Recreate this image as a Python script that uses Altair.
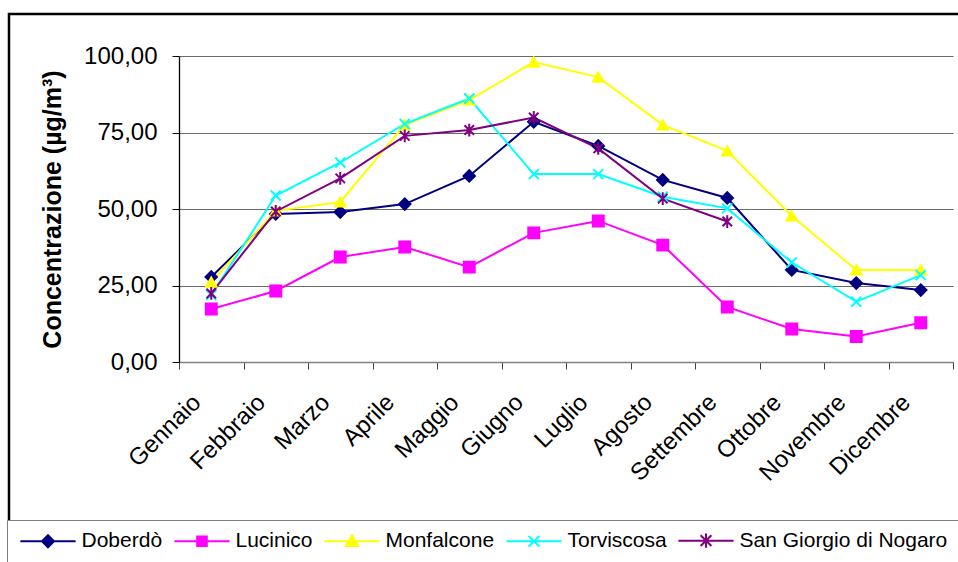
import altair as alt
import pandas as pd

# Mesi (asse x)
mesi = ["Gennaio", "Febbraio", "Marzo", "Aprile", "Maggio", "Giugno",
        "Luglio", "Agosto", "Settembre", "Ottobre", "Novembre", "Dicembre"]

# Stazioni e valori mensili (µg/m³)
stazioni = ["Doberdò", "Lucinico", "Monfalcone", "Torviscosa", "San Giorgio di Nogaro"]
doberdo = [27.8, 48.4, 49.0, 51.6, 60.8, 78.5, 70.6, 59.5, 53.6, 30.1, 25.8, 23.5]
lucinico = [17.3, 23.2, 34.3, 37.6, 31.0, 42.2, 46.1, 38.2, 18.0, 10.8, 8.3, 12.8]
monfalcone = [26.1, 49.4, 52.3, 77.5, 85.6, 98.0, 93.1, 77.5, 69.0, 47.7, 30.1, 30.1]
torviscosa = [21.9, 54.4, 65.2, 77.8, 86.1, 61.4, 61.4, 54.0, 50.2, 32.5, 19.7, 28.4]
san_giorgio = [22.4, 49.2, 60.0, 73.9, 75.8, 79.9, 69.8, 53.4, 45.9, None, None, None]

colori = ["#000080", "#FF00FF", "#FFFF00", "#00FFFF", "#800080"]

serie_valori = [doberdo, lucinico, monfalcone, torviscosa, san_giorgio]
righe = []
for nome, valori in zip(stazioni, serie_valori):
    for mese, v in zip(mesi, valori):
        if v is not None:
            righe.append({"mese": mese, "serie": nome, "valore": v})
df = pd.DataFrame(righe)

# marker shapes for the plotted points
X_PATH = "M-1,-1L1,1M-1,1L1,-1"
STAR_PATH = "M-1,-1L1,1M-1,1L1,-1M0,-1.35V1.35"
forme = ["diamond", "square", "triangle-up", X_PATH, STAR_PATH]
dimensioni = [130, 90, 150, 150, 150]

# legend symbols: a line segment with the marker in the middle
LINEA = "M-4.6,0H4.6"
forme_legenda = [
    LINEA + "M0,-1L1,0L0,1L-1,0Z",
    LINEA + "M-0.8,-0.8H0.8V0.8H-0.8Z",
    LINEA + "M0,-1L1,0.8H-1Z",
    LINEA + "M-0.9,-0.9L0.9,0.9M-0.9,0.9L0.9,-0.9",
    LINEA + "M-0.9,-0.9L0.9,0.9M-0.9,0.9L0.9,-0.9M0,-1.2V1.2",
]

FONT = "Liberation Sans"

x_enc = alt.X(
    "mese:N", sort=mesi, title=None,
    scale=alt.Scale(domain=mesi, paddingInner=0, paddingOuter=0),
    axis=alt.Axis(
        labelAngle=-45, labelFont=FONT, labelFontSize=24, labelColor="black",
        labelPadding=21, labelOffset=-23, tickBand="extent", tickSize=7,
        tickColor="#404040", domainColor="#808080", domainWidth=1.5,
        grid=False, labelLimit=300,
    ),
)
y_enc = alt.Y(
    "valore:Q",
    scale=alt.Scale(domain=[0, 100], nice=False),
    title="Concentrazione (µg/m³)",
    axis=alt.Axis(
        values=[0, 25, 50, 75, 100],
        labelExpr="replace(format(datum.value, '.2f'), '.', ',')",
        labelFont=FONT, labelFontSize=24, labelColor="black", labelPadding=15,
        tickSize=7, tickColor="black", domainColor="black", domainWidth=1.3,
        grid=True, gridColor="#6a6a6a", gridWidth=1.2,
        titleFont=FONT, titleFontSize=25, titleFontWeight="bold",
        titleColor="black", titlePadding=18,
    ),
)

base = alt.Chart(df)

cornice = alt.Chart(pd.DataFrame({"k": [0]})).mark_rect(
    fill="transparent", stroke="black", strokeWidth=2.5
).encode(
    x=alt.value(-170), x2=alt.value(820), y=alt.value(-42), y2=alt.value(540)
)

linee = base.mark_line(strokeWidth=2).encode(
    x=x_enc, y=y_enc,
    color=alt.Color("serie:N", scale=alt.Scale(domain=stazioni, range=colori), legend=None),
)

punti = base.mark_point(filled=True, opacity=1, strokeWidth=2).encode(
    x=alt.X("mese:N", sort=mesi),
    y="valore:Q",
    shape=alt.Shape("serie:N", scale=alt.Scale(domain=stazioni, range=forme), legend=None),
    fill=alt.Fill("serie:N", scale=alt.Scale(domain=stazioni, range=colori), legend=None),
    stroke=alt.Stroke("serie:N", scale=alt.Scale(domain=stazioni, range=colori), legend=None),
    size=alt.Size("serie:N", scale=alt.Scale(domain=stazioni, range=dimensioni), legend=None),
)

leg = alt.Legend(
    title=None, orient="none", legendX=-172, legendY=464, direction="horizontal",
    columns=5, labelFont=FONT, labelFontSize=21, labelColor="black", labelLimit=400,
    symbolSize=144, symbolStrokeWidth=2, symbolOffset=20.5, labelOffset=23,
    columnPadding=7, padding=10, strokeColor="#808080", fillColor="white",
)

legenda = base.transform_calculate(nome="datum.serie").transform_filter("false").mark_point(
    filled=True, opacity=1, strokeWidth=2
).encode(
    x=alt.X("mese:N", sort=mesi),
    y="valore:Q",
    shape=alt.Shape("nome:N", scale=alt.Scale(domain=stazioni, range=forme_legenda), legend=leg),
    fill=alt.Fill("nome:N", scale=alt.Scale(domain=stazioni, range=colori), legend=leg),
    stroke=alt.Stroke("nome:N", scale=alt.Scale(domain=stazioni, range=colori), legend=leg),
)

chart = alt.layer(cornice, linee, punti, legenda).resolve_scale(
    shape="independent", fill="independent", stroke="independent"
).properties(
    width=774, height=306,
    autosize=alt.AutoSizeParams(type="none"),
    padding={"left": 179, "top": 56, "right": 5, "bottom": 200},
    background="white",
).configure_view(strokeWidth=0)

chart.save("out.html", embed_options={"renderer": "svg", "actions": False})
